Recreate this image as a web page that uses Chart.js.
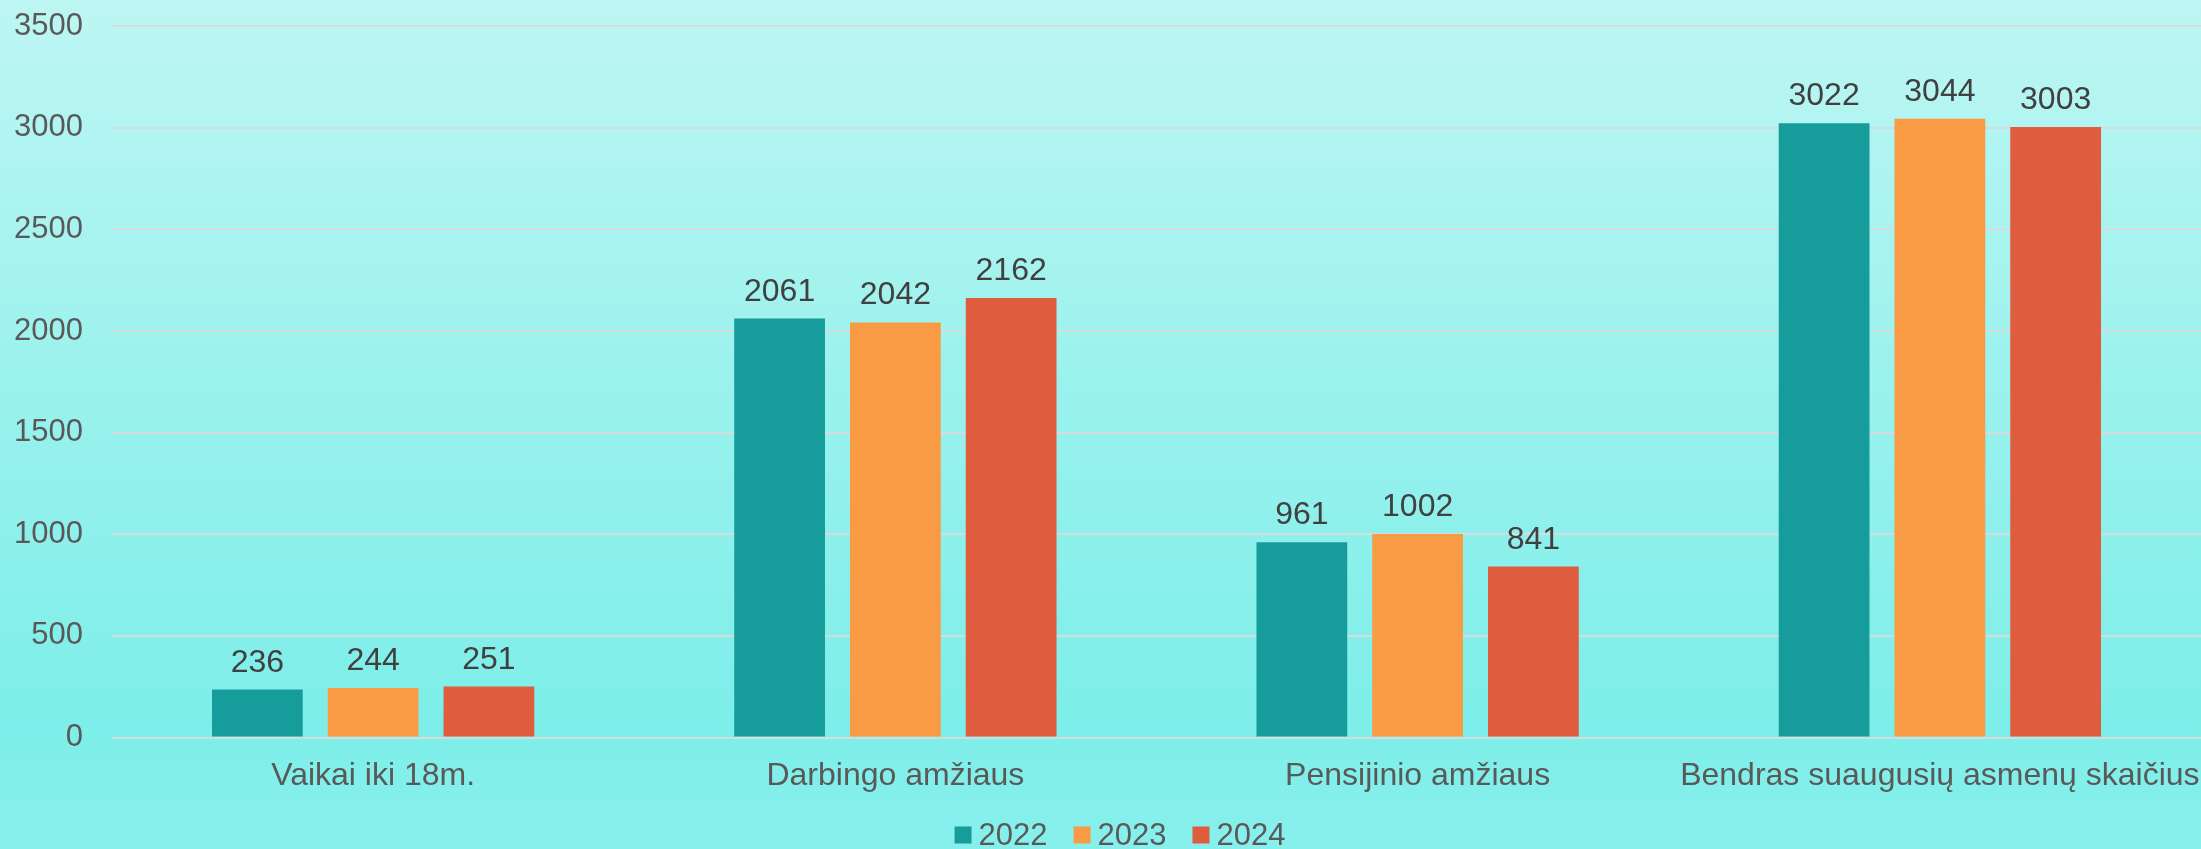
<!DOCTYPE html>
<html>
<head>
<meta charset="utf-8">
<script src="https://cdn.jsdelivr.net/npm/chart.js@4"></script>
<style>
  html, body { margin: 0; padding: 0; overflow: hidden; }
  body { width: 2201px; height: 849px; background: linear-gradient(#bdf6f3, #7deee9 85%, #88f0ec); }
  #wrap { width: 2201px; height: 849px; position: relative; }
</style>
</head>
<body>
<div id="wrap"><canvas id="chart"></canvas></div>
<script>
'use strict';

var categories = ['Vaikai iki 18m.', 'Darbingo amžiaus', 'Pensijinio amžiaus', 'Bendras suaugusių asmenų skaičius'];
var years = ['2022', '2023', '2024'];
var values2022 = [236, 2061, 961, 3022];
var values2023 = [244, 2042, 1002, 3044];
var values2024 = [251, 2162, 841, 3003];
var yTicks = [0, 500, 1000, 1500, 2000, 2500, 3000, 3500];

var colors = ['#169c9a', '#f99b45', '#e05c3e'];
var fontFamily = '"Liberation Sans", Arial, sans-serif';

// gradient background across the whole canvas
var backgroundPlugin = {
  id: 'bg',
  beforeDraw: function (chart) {
    var ctx = chart.ctx;
    var g = ctx.createLinearGradient(0, 0, 0, chart.height);
    g.addColorStop(0, '#bdf6f3');
    g.addColorStop(0.85, '#7deee9');
    g.addColorStop(1, '#88f0ec');
    ctx.save();
    ctx.fillStyle = g;
    ctx.fillRect(0, 0, chart.width, chart.height);
    ctx.restore();
  }
};

// value labels above each bar
var valueLabels = {
  id: 'valueLabels',
  afterDatasetsDraw: function (chart) {
    var ctx = chart.ctx;
    ctx.save();
    ctx.font = '32px ' + fontFamily;
    ctx.fillStyle = '#404040';
    ctx.textAlign = 'center';
    ctx.textBaseline = 'alphabetic';
    chart.data.datasets.forEach(function (ds, i) {
      chart.getDatasetMeta(i).data.forEach(function (bar, j) {
        ctx.fillText(String(ds.data[j]), bar.x, bar.y - 18);
      });
    });
    ctx.restore();
  }
};

// legend at the bottom, drawn by hand for tight box/text spacing
var bottomLegend = {
  id: 'bottomLegend',
  afterDraw: function (chart) {
    var ctx = chart.ctx;
    var box = 17, gap = 7, spacing = 26, y = 835;
    ctx.save();
    ctx.font = '31px ' + fontFamily;
    ctx.textBaseline = 'middle';
    var items = chart.data.datasets.map(function (ds) {
      return { text: ds.label, color: ds.backgroundColor, w: ctx.measureText(ds.label).width };
    });
    var total = 0;
    items.forEach(function (it, i) { total += box + gap + it.w + (i ? spacing : 0); });
    var x = 1120 - total / 2;
    items.forEach(function (it) {
      ctx.fillStyle = it.color;
      ctx.fillRect(x, y - box / 2, box, box);
      ctx.fillStyle = '#595959';
      ctx.textAlign = 'left';
      ctx.fillText(it.text, x + box + gap, y + 1);
      x += box + gap + it.w + spacing;
    });
    ctx.restore();
  }
};

function noOverflow(scale) {
  scale.paddingTop = 0;
  scale.paddingBottom = 0;
  scale.paddingLeft = 0;
  scale.paddingRight = 0;
}

var ctx = document.getElementById('chart').getContext('2d');
new Chart(ctx, {
  type: 'bar',
  data: {
    labels: categories,
    datasets: [
      { label: years[0], data: values2022, backgroundColor: colors[0] },
      { label: years[1], data: values2023, backgroundColor: colors[1] },
      { label: years[2], data: values2024, backgroundColor: colors[2] }
    ]
  },
  options: {
    responsive: true,
    maintainAspectRatio: false,
    animation: false,
    categoryPercentage: 0.665,
    barPercentage: 0.784,
    layout: { padding: { top: 26, left: 14, right: 0, bottom: 35 } },
    plugins: {
      legend: { display: false },
      tooltip: { enabled: false }
    },
    scales: {
      x: {
        afterFit: noOverflow,
        grid: { display: false, drawTicks: false },
        border: { display: false },
        ticks: {
          color: '#595959',
          font: { family: fontFamily, size: 32 },
          padding: 19,
          maxRotation: 0,
          autoSkip: false
        }
      },
      y: {
        min: 0,
        max: 3500,
        afterFit: function (scale) {
          noOverflow(scale);
          scale.width = 98;
        },
        afterBuildTicks: function (scale) {
          scale.ticks = yTicks.map(function (v) { return { value: v }; });
        },
        grid: { color: '#d6dcdc', lineWidth: 2, drawTicks: false },
        border: { display: false },
        ticks: {
          color: '#595959',
          font: { family: fontFamily, size: 31 },
          padding: 29,
          callback: function (v) { return String(v); }
        }
      }
    }
  },
  plugins: [backgroundPlugin, valueLabels, bottomLegend]
});
</script>
</body>
</html>
